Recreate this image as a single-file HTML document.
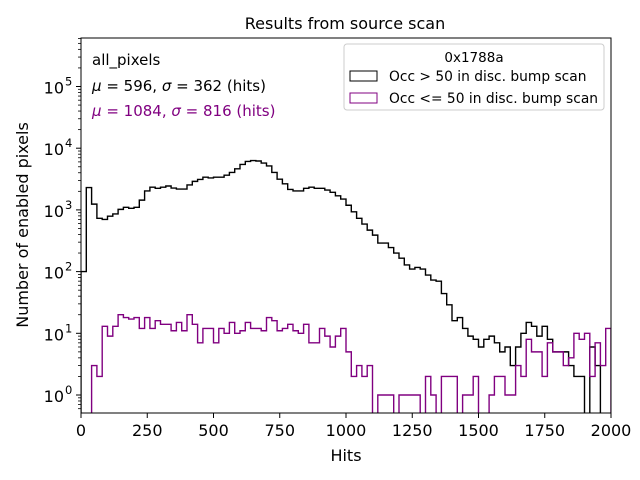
<!DOCTYPE html>
<html><head><meta charset="utf-8"><style>
body{margin:0;background:#fff}
svg{display:block;font-family:"DejaVu Sans","Liberation Sans",sans-serif}
</style></head><body>
<svg id="chart" width="640" height="480" viewBox="0 0 640 480">
<defs><clipPath id="plotclip"><rect x="81" y="38" width="530" height="375"/></clipPath></defs>
<rect width="640" height="480" fill="#fff"/>
<text x="345" y="29" font-size="16" text-anchor="middle">Results from source scan</text>
<g id="series" clip-path="url(#plotclip)"></g>
<g id="axes"></g>
<rect x="81" y="38" width="530" height="375" fill="none" stroke="#000" stroke-width="1"/>
<text x="92" y="65" font-size="15">all_pixels</text>
<text x="92" y="91" font-size="15"><tspan font-style="italic">μ</tspan> = 596, <tspan font-style="italic">σ</tspan> = 362 (hits)</text>
<text x="92" y="116" font-size="15" fill="#800080"><tspan font-style="italic">μ</tspan> = 1084, <tspan font-style="italic">σ</tspan> = 816 (hits)</text>
<g>
<rect x="344" y="44" width="260" height="66" rx="3" fill="#fff" fill-opacity="0.8" stroke="#ccc"/>
<text x="474" y="62" font-size="13.5" text-anchor="middle">0x1788a</text>
<rect x="350" y="71" width="27" height="10" fill="none" stroke="#000"/>
<text x="389" y="81" font-size="13.8">Occ &gt; 50 in disc. bump scan</text>
<rect x="350" y="93" width="27" height="10" fill="none" stroke="#800080"/>
<text x="389" y="103" font-size="13.8">Occ &lt;= 50 in disc. bump scan</text>
</g>
<text x="346" y="461" font-size="16" text-anchor="middle">Hits</text>
<text x="28" y="225" font-size="16" text-anchor="middle" transform="rotate(-90 28 225)">Number of enabled pixels</text>
</svg>
<script>
const binWidth = 20;
const xTicks = [0,250,500,750,1000,1250,1500,1750,2000];
const yTickExps = [0,1,2,3,4,5];
const blackCounts = [100,2300,1240,730,700,790,860,1020,1100,1060,1100,1440,2030,2330,2240,2330,2440,2260,2180,2180,2540,2900,3120,3390,3300,3390,3390,3650,4050,4640,5450,6100,6300,6200,5750,5150,4050,3150,2650,2150,2030,2030,2240,2330,2240,2240,2100,1930,1690,1500,1190,930,
730,590,470,390,290,290,245,200,165,128,110,117,110,88,73,70,44,29,16,18,12,9,8,6,8,9,7,5,6,3,6,10,15,13,9,13,8,5,5,5,3,2,2,0,6,3,0];
const purpleCounts = [0,0,3,2,13,9,13,20,18,17,18,12,18,12,16,14,14,11,15,11,20,14,7,12,12,7,12,10,15,10,11,15,12,12,11,18,16,11,12,14,11,10,14,7,7,12,9,6,9,12,5,2,3,2,3,
0,1,1,1,0,1,1,1,1,0,2,1,0,2,2,2,0,1,1,2,0,0,1,2,2,
1,1,3,2,8,5,5,2,7,5,5,3,4,10,8,10,2,7,3,12];

const NS = "http://www.w3.org/2000/svg";
const X0 = 81, X1 = 611, Y0 = 38, Y1 = 413;
function xs(v){ return X0 + (v/2000)*(X1-X0); }
function ys(v){ return v <= 0 ? 440 : 395 - 61.7*Math.log10(v); }
function mk(tag, attrs, parent){
  const e = document.createElementNS(NS, tag);
  for (const k in attrs) e.setAttribute(k, attrs[k]);
  parent.appendChild(e); return e;
}
const series = document.getElementById('series');
const axes = document.getElementById('axes');
function stepPath(counts){
  let d = "M" + xs(0) + "," + 440;
  counts.forEach((c,i)=>{
    const y = ys(c);
    d += " L" + xs(i*binWidth) + "," + y + " L" + xs((i+1)*binWidth) + "," + y;
  });
  d += " L" + xs(counts.length*binWidth) + ",440";
  return d;
}
const pb = mk('path', {d: stepPath(blackCounts), fill:'none', stroke:'#000', 'stroke-width':1.4}, series);


const pp = mk('path', {d: stepPath(purpleCounts), fill:'none', stroke:'#800080', 'stroke-width':1.4}, series);



xTicks.forEach(t=>{
  const x = xs(t);
  mk('line', {x1:x, x2:x, y1:Y1, y2:Y1+5, stroke:'#000'}, axes);
  const lb = mk('text', {x:x, y:Y1+23, 'font-size':16, 'text-anchor':'middle'}, axes);
  lb.textContent = t;
  
  
});
yTickExps.forEach(e=>{
  const y = ys(Math.pow(10,e));
  mk('line', {x1:X0-5, x2:X0, y1:y, y2:y, stroke:'#000'}, axes);
  const lb = mk('text', {x:X0-17, y:y+7, 'font-size':16, 'text-anchor':'end'}, axes);
  lb.textContent = '10';
  
  
  const sp = mk('text', {x:X0-16, y:y-1, 'font-size':11.5, 'text-anchor':'start'}, axes);
  sp.textContent = String(e);
  
  
});
for (let e=-1; e<=5; e++){
  for (let m=2; m<=9; m++){
    const y = ys(m*Math.pow(10,e));
    if (y < Y0 || y > Y1) continue;
    mk('line', {x1:X0-3, x2:X0, y1:y, y2:y, stroke:'#000', 'stroke-width':0.8}, axes);
  }
}
</script>
</body></html>
